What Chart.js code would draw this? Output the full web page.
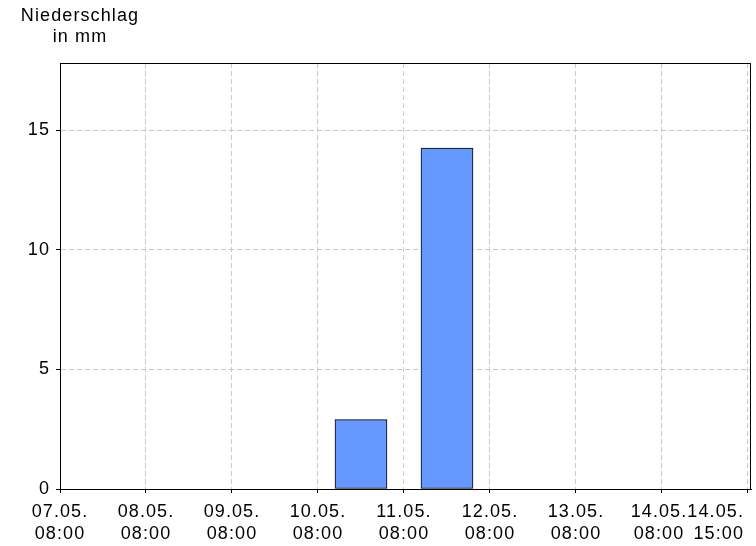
<!DOCTYPE html>
<html>
<head>
<meta charset="utf-8">
<script src="https://cdn.jsdelivr.net/npm/chart.js@4"></script>
<style>
  body { margin: 0; background: #fff; }
  #wrap { width: 756px; height: 546px; }
</style>
</head>
<body>
<div id="wrap"><canvas id="rainChart" width="756" height="546"></canvas></div>
<script>
// data
const xLabels = [
  ['07.05.', '08:00'], ['08.05.', '08:00'], ['09.05.', '08:00'], ['10.05.', '08:00'],
  ['11.05.', '08:00'], ['12.05.', '08:00'], ['13.05.', '08:00'], ['14.05.', '08:00'],
  ['14.05.', '15:00']
];
const rain = [0, 0, 0, 2.9, 14.25, 0, 0, 0];
const yTicks = [0, 5, 10, 15];
const yMax = 17.8;
const xMax = 8.035;   // the plot frame runs a little past the last tick
const axisTitle = ['Niederschlag', 'in mm'];

const FONT = '"Liberation Sans", Arial, sans-serif';
const SPACING = '1.1px';

// letter spacing (canvas state gets reset on resize, so set it in the hooks)
const spacing = {
  id: 'spacing',
  beforeUpdate(chart) { chart.ctx.letterSpacing = SPACING; },
  beforeDraw(chart) {
    chart.ctx.letterSpacing = SPACING;
    // keep the last two x labels inside the canvas like the original
    const items = chart.scales.x.getLabelItems();
    const last = items[items.length - 1];
    last.options.textAlign = 'right';
    last.options.translation[0] -= 4;
    items[items.length - 2].options.translation[0] -= 3;
  }
};

const frame = {
  id: 'frame',
  afterDraw(chart) {
    const { ctx, chartArea: a } = chart;
    ctx.save();
    ctx.strokeStyle = '#000';
    ctx.lineWidth = 1;
    ctx.strokeRect(Math.round(a.left) + 0.5, Math.round(a.top) + 0.5,
      Math.round(a.right - a.left) - 1, Math.round(a.bottom - a.top));
    ctx.fillStyle = '#000';
    ctx.font = '18px ' + FONT;
    ctx.textAlign = 'center';
    ctx.fillText(axisTitle[0], 80, 21);
    ctx.fillText(axisTitle[1], 80, 42);
    ctx.restore();
  }
};

const gridOpts = {
  offset: false,
  color: '#c8c8c8',
  tickColor: '#000',
  tickLength: 4,
  tickBorderDash: []
};
const borderOpts = { color: '#000', width: 1, dash: [5, 3] };

new Chart(document.getElementById('rainChart').getContext('2d'), {
  type: 'bar',
  data: {
    datasets: [{
      data: rain.map((v, i) => ({ x: i + 0.5, y: v })),
      backgroundColor: '#6699ff',
      borderColor: '#000',
      borderWidth: 1,
      borderSkipped: false,
      barThickness: 52
    }]
  },
  options: {
    responsive: false,
    animation: false,
    layout: { padding: { top: 63, right: 5, left: 0, bottom: 0 } },
    plugins: { legend: { display: false }, tooltip: { enabled: false } },
    scales: {
      x: {
        type: 'linear',
        offset: false,
        min: 0,
        max: xMax,
        afterBuildTicks: s => { s.ticks = xLabels.map((_, i) => ({ value: i })); },
        ticks: {
          autoSkip: false,
          maxRotation: 0,
          padding: 9,
          color: '#000',
          font: { family: FONT, size: 18, lineHeight: 1.17 },
          callback: v => xLabels[v]
        },
        grid: gridOpts,
        border: borderOpts,
        afterFit: s => { s.paddingRight = 0; s.paddingLeft = 0; s.height = 57; }
      },
      y: {
        min: 0,
        max: yMax,
        afterBuildTicks: s => { s.ticks = s.ticks.filter(t => yTicks.includes(t.value)); },
        ticks: {
          stepSize: 5,
          padding: 6,
          color: '#000',
          font: { family: FONT, size: 18 }
        },
        grid: gridOpts,
        border: borderOpts,
        afterFit: s => { s.width = 60; s.paddingTop = 0; s.paddingBottom = 0; }
      }
    }
  },
  plugins: [spacing, frame]
});
</script>
</body>
</html>
